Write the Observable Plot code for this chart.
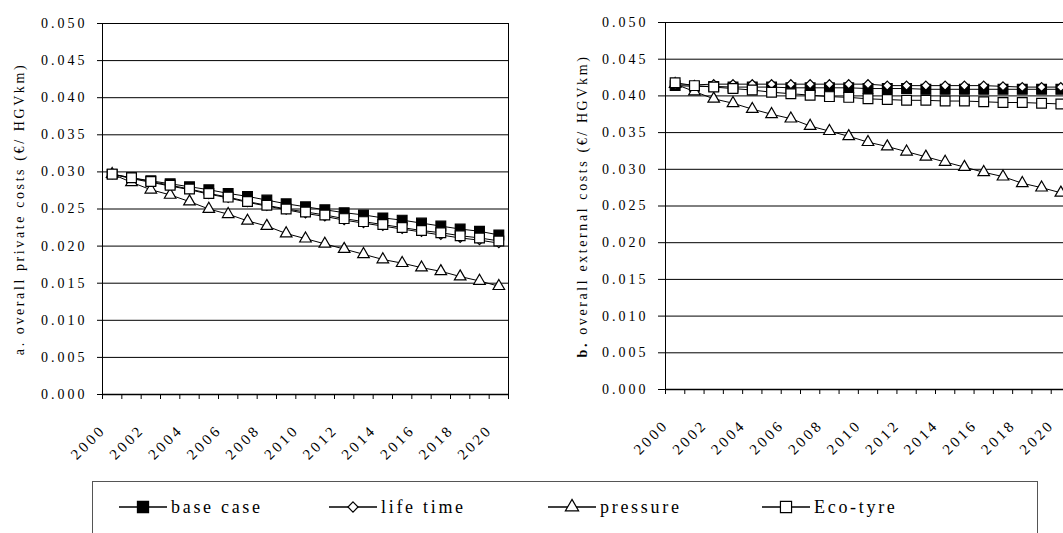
<!DOCTYPE html>
<html><head><meta charset="utf-8">
<script src="https://cdn.jsdelivr.net/npm/d3@7"></script>
<script src="https://cdn.jsdelivr.net/npm/@observablehq/plot@0.6"></script>
<style>
html,body{margin:0;padding:0;background:#fff;}
#wrap{position:relative;width:1063px;height:533px;overflow:hidden;background:#fff;font-family:"Liberation Serif","DejaVu Serif",serif;}
.chart{position:absolute;top:0;height:460px;}
.chart svg{max-width:none !important;}
#wrap svg text{font-family:"Liberation Serif","DejaVu Serif",serif;}
#legend{position:absolute;left:92px;top:481px;width:946px;height:70px;border:1px solid #555;box-sizing:border-box;}
.item{position:absolute;top:11px;height:28px;display:flex;align-items:center;font-size:18px;letter-spacing:2.7px;color:#000;white-space:nowrap;}
.item svg{margin-right:4px;}
</style></head><body>
<div id="wrap"><div id="left" class="chart" style="left:0px;width:520px"></div><div id="right" class="chart" style="left:520px;width:560px"></div><div id="legend"></div></div>
<script>
// ---- data ----
const years = [2000,2001,2002,2003,2004,2005,2006,2007,2008,2009,2010,2011,2012,2013,2014,2015,2016,2017,2018,2019,2020];
const labelYears = [2000,2002,2004,2006,2008,2010,2012,2014,2016,2018,2020];
const yTicks = [0,0.005,0.010,0.015,0.020,0.025,0.030,0.035,0.040,0.045,0.050];
const seriesNames = ["base case","life time","pressure","Eco-tyre"];

const privBase     = [0.0297,0.0292,0.0288,0.0284,0.0280,0.0276,0.0271,0.0267,0.0262,0.0257,0.0253,0.0249,0.0245,0.0242,0.0238,0.0235,0.0231,0.0227,0.0223,0.0220,0.0215];
const privLife     = [0.0297,0.0291,0.0286,0.0281,0.0276,0.0270,0.0265,0.0259,0.0254,0.0249,0.0244,0.0240,0.0235,0.0231,0.0227,0.0223,0.0219,0.0215,0.0211,0.0208,0.0204];
const privPressure = [0.0297,0.0286,0.0276,0.0269,0.0260,0.0250,0.0243,0.0234,0.0227,0.0217,0.0210,0.0203,0.0196,0.0189,0.0182,0.0177,0.0171,0.0166,0.0159,0.0153,0.0146];
const privEco      = [0.0297,0.0292,0.0287,0.0282,0.0277,0.0271,0.0266,0.0260,0.0255,0.0250,0.0246,0.0242,0.0237,0.0233,0.0229,0.0225,0.0221,0.0218,0.0214,0.0211,0.0207];

const extBase      = [0.0414,0.0413,0.0413,0.0412,0.0412,0.0412,0.0411,0.0411,0.0411,0.0411,0.0410,0.0410,0.0410,0.0409,0.0409,0.0409,0.0409,0.0409,0.0409,0.0409,0.0409];
const extLife      = [0.0415,0.0415,0.0416,0.0416,0.0416,0.0416,0.0416,0.0416,0.0416,0.0416,0.0416,0.0414,0.0414,0.0414,0.0414,0.0414,0.0414,0.0413,0.0412,0.0412,0.0412];
const extPressure  = [0.0416,0.0406,0.0396,0.0390,0.0382,0.0375,0.0369,0.0359,0.0352,0.0345,0.0337,0.0331,0.0324,0.0317,0.0310,0.0303,0.0296,0.0290,0.0281,0.0275,0.0268];
const extEco       = [0.0418,0.0414,0.0412,0.0410,0.0408,0.0405,0.0403,0.0401,0.0399,0.0398,0.0396,0.0395,0.0394,0.0394,0.0393,0.0393,0.0392,0.0391,0.0391,0.0390,0.0389];

const symbolStyle = {
  "base case": {symbol: "square",   r: 5.5, fill: "#000"},
  "life time": {symbol: "diamond2", r: 4.0, fill: "#fff"},
  "pressure":  {symbol: "triangle", r: 4.3, fill: "#fff"},
  "Eco-tyre":  {symbol: "square",   r: 5.5, fill: "#fff"}
};

function table(arrs) {
  return seriesNames.map((name, i) => years.map((yr, j) => ({series: name, year: yr, value: arrs[i][j]})));
}

const boundaries = years.map(y => y - 0.5).concat([years[years.length-1] + 0.5]);

function chart(el, cfg) {
  const groups = table(cfg.arrays);
  const marks = [
    Plot.gridY(yTicks.slice(1), {stroke: "#000", strokeOpacity: 1, strokeWidth: 1}),
    Plot.ruleX([boundaries[0], boundaries[boundaries.length-1]], {stroke: "#000", strokeWidth: 1}),
    Plot.ruleY([0], {stroke: "#000", strokeWidth: 1.3}),
    Plot.axisY(yTicks, {tickSize: cfg.yTickSize, tickPadding: cfg.yTickPad, tickFormat: d3.format(".3f"), label: null, fontSize: 14}),
    Plot.axisX(boundaries, {tickSize: 5, fill: "none", label: null}),
    Plot.text(labelYears, {x: d => d, frameAnchor: "bottom", text: d => String(d), rotate: -45, textAnchor: "end", lineAnchor: "middle", dx: cfg.lx, dy: cfg.ly, fontSize: 15}),
    Plot.text([cfg.title], {frameAnchor: "left", rotate: -90, textAnchor: "middle", lineAnchor: "middle", dx: -83, fontSize: 14})
  ];
  groups.forEach(g => {
    const s = symbolStyle[g[0].series];
    marks.push(Plot.line(g, {x: "year", y: "value", stroke: "#000", strokeWidth: 1}));
    marks.push(Plot.dot(g, {x: "year", y: "value", symbol: s.symbol, r: s.r, fill: s.fill, stroke: "#000", strokeWidth: 1.2}));
  });
  const svg = Plot.plot({
    width: cfg.width, height: 460,
    marginLeft: cfg.ml, marginRight: cfg.mr, marginTop: cfg.mt, marginBottom: cfg.mb,
    x: {type: "linear", domain: [boundaries[0], boundaries[boundaries.length-1]]},
    y: {domain: [0, 0.05]},
    style: {fontFamily: "'Liberation Serif', 'DejaVu Serif', serif", fontSize: "14px", background: "transparent", color: "#000", letterSpacing: "3px", overflow: "visible", maxWidth: "none"},
    marks
  });
  d3.select(svg).attr("width", cfg.width).attr("height", 460).style("width", cfg.width + "px").style("height", "460px");
  // style the rotated axis title (bold panel letter for b.)
  d3.select(svg).selectAll("text").each(function() {
    const t = this.textContent;
    if (t === cfg.title) {
      const sel = d3.select(this).attr("letter-spacing", "2.6px");
      if (cfg.boldLetter) {
        sel.text(null);
        sel.append("tspan").attr("font-weight", "bold").text(t.slice(0, 2));
        sel.append("tspan").text(t.slice(2));
      }
    }
  });
  el.appendChild(svg);
}

chart(document.getElementById("left"), {
  arrays: [privBase, privLife, privPressure, privEco],
  title: "a. overall private costs (€/ HGVkm)", boldLetter: false,
  width: 520, ml: 102, mr: 12, mt: 23, mb: 66, yTickSize: 5, yTickPad: 10, lx: -9, ly: 33
});
chart(document.getElementById("right"), {
  arrays: [extBase, extLife, extPressure, extEco],
  title: "b. overall external costs (€/ HGVkm)", boldLetter: true,
  width: 560, ml: 145, mr: 10, mt: 22, mb: 71, yTickSize: 7, yTickPad: 10, lx: -9, ly: 33
});

// ---- legend ----
const legendX = [26, 236, 455, 669];
const legend = d3.select("#legend");
seriesNames.forEach((name, i) => {
  const s = symbolStyle[name];
  const item = legend.append("div").attr("class", "item").style("left", legendX[i] + "px");
  const svg = item.append("svg").attr("width", 48).attr("height", 18);
  svg.append("line").attr("x1", 0).attr("x2", 48).attr("y1", 9).attr("y2", 9).attr("stroke", "#000").attr("stroke-width", 1.6);
  const sym = {square: d3.symbolSquare, diamond2: d3.symbolDiamond2, triangle: d3.symbolTriangle}[s.symbol];
  svg.append("path").attr("transform", "translate(24,9)")
    .attr("d", d3.symbol(sym, Math.PI * s.r * s.r * 1.3)())
    .attr("fill", s.fill).attr("stroke", "#000").attr("stroke-width", 1.2);
  item.append("span").text(name);
});
</script></body></html>
